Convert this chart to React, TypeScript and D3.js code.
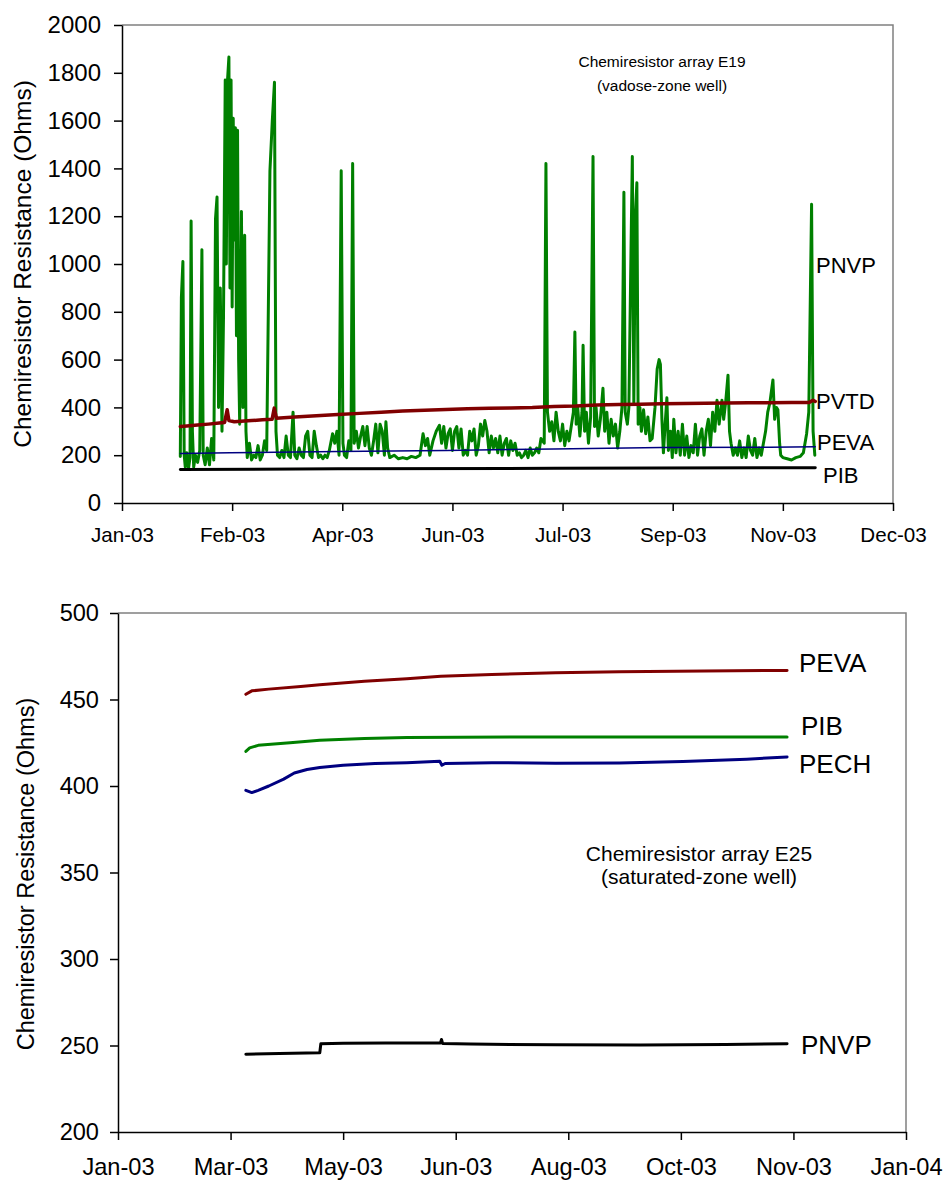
import React, { useEffect, useRef } from 'react';
import * as d3 from 'd3';

// [day of 2003 (0 = 1 Jan), ohms]
type Pt = [number, number];

// ---- array E19 (vadose-zone well) ----
const e19Pnvp: Pt[] = [
	[27, 195], [27.5, 860], [28.2, 1010], [28.8, 200], [29.3, 150], [30, 210], [30.8, 145], [31.5, 190],
	[32, 1180], [32.6, 300], [33.2, 150], [34, 200], [35, 170], [36, 220], [37, 1060], [37.6, 200],
	[38.5, 160], [39.5, 230], [40.5, 160], [41.5, 270], [42.5, 180], [43.3, 1190], [44, 1280], [44.7, 400],
	[45.5, 900], [46.3, 300], [47, 780], [47.8, 1770], [48.3, 1000], [48.8, 1760], [49.5, 1866], [50, 900],
	[50.5, 1770], [51, 820], [51.5, 1610], [52, 1100], [52.5, 1570], [53, 700], [53.5, 1560], [54, 600],
	[54.5, 330], [55.3, 1220], [56, 400], [56.8, 1120], [57.4, 300], [58, 190], [59, 250], [60, 180],
	[61, 200], [62, 190], [63, 240], [64, 180], [65, 200], [66, 260], [67, 220], [68.5, 1390],
	[69.6, 1600], [70.6, 1760], [71.3, 300], [72, 200], [73, 190], [74, 220], [75, 190], [76, 280],
	[77, 200], [78, 190], [79.2, 380], [80, 200], [81, 185], [82, 230], [83, 200], [84, 190],
	[85, 280], [86, 300], [87, 200], [88, 190], [89, 300], [90, 240], [91, 190], [92, 200],
	[93, 185], [94, 200], [95, 190], [96, 220], [97.5, 290], [98.5, 250], [99.5, 300], [100.5, 200],
	[101.5, 1390], [102.3, 250], [103, 200], [104, 190], [105, 260], [106, 220], [106.8, 1420], [107.5, 250],
	[108.5, 300], [109.5, 230], [110.5, 280], [111.5, 320], [112.5, 240], [113.5, 320], [114.5, 230], [115.5, 200],
	[116.5, 260], [117.5, 330], [118.5, 210], [119.5, 330], [120.5, 300], [121.5, 200], [122.2, 340], [123, 230],
	[124, 190], [126, 200], [128, 185], [130, 190], [132, 185], [134, 195], [136, 190], [138, 200],
	[139.4, 290], [140.5, 240], [141.5, 270], [142.5, 200], [144, 260], [145.5, 300], [147, 325], [148, 250],
	[149, 320], [150, 230], [151, 290], [152, 310], [153, 220], [154, 300], [155, 320], [156, 230],
	[157, 310], [158, 200], [159, 220], [160, 200], [161, 300], [162, 260], [163, 310], [164, 200],
	[165, 240], [166, 330], [167, 280], [168, 345], [169, 300], [170, 210], [171, 280], [172, 230],
	[173, 270], [174, 210], [175, 280], [176, 200], [177, 250], [178, 270], [179, 200], [180, 260],
	[181, 220], [182, 250], [183, 200], [184, 210], [185, 190], [186, 200], [187, 220], [188, 190],
	[189, 230], [190, 200], [191, 210], [192, 230], [193, 210], [194, 270], [195.5, 250], [196.3, 1420],
	[197, 380], [198, 300], [199, 340], [200, 260], [201, 380], [202, 300], [203, 260], [204, 330],
	[205, 240], [206, 300], [207, 260], [208, 320], [209, 380], [209.7, 715], [210.3, 330], [211, 400],
	[212, 280], [213, 380], [213.5, 660], [214.2, 300], [215, 380], [216, 250], [217, 360], [218.1, 1450],
	[218.8, 320], [219.5, 400], [220.5, 280], [221.5, 350], [222.7, 480], [223.5, 300], [224.5, 380], [225.5, 250],
	[226.5, 350], [227.5, 280], [228.5, 330], [229.5, 230], [230.5, 300], [231.5, 400], [232.4, 1300], [233, 380],
	[234, 330], [234.7, 400], [235.6, 1000], [236.3, 1450], [237, 420], [237.7, 1200], [238.4, 1340], [239, 330],
	[239.8, 400], [240.5, 300], [241.5, 390], [242.5, 290], [243.5, 360], [244.5, 260], [245.5, 270], [246.8, 400],
	[247.8, 560], [248.7, 600], [249.3, 580], [250, 350], [250.7, 210], [251.5, 330], [252.3, 440], [253, 220],
	[254, 300], [254.8, 190], [255.5, 350], [256.5, 210], [257.5, 300], [258.5, 200], [259.5, 330], [260.5, 200],
	[261.5, 280], [262.5, 190], [263.5, 240], [264.5, 210], [265.5, 330], [266.5, 200], [267.5, 280], [268.5, 310],
	[269.5, 200], [270.5, 300], [271.5, 350], [272.5, 240], [273.5, 380], [274.5, 300], [275.5, 430], [276.5, 330],
	[277.8, 430], [278.6, 350], [279.5, 420], [280.6, 535], [281.3, 300], [282, 250], [283, 200], [284, 230],
	[285, 200], [286, 260], [287, 190], [288, 230], [289, 190], [290, 280], [291, 220], [292, 200],
	[293, 270], [294, 190], [295, 230], [296, 200], [297, 250], [298, 300], [299, 380], [300, 420],
	[301.4, 515], [302.2, 350], [303, 400], [303.7, 390], [304.5, 250], [305, 200], [306, 190], [308, 185],
	[310, 180], [312, 190], [314, 195], [315.5, 210], [317, 290], [318, 380], [319.3, 1250], [320, 300],
	[320.8, 200],
];
const e19Pvtd: Pt[] = [
	[27, 320], [30, 322], [35, 326], [40, 330], [45, 335], [47.5, 337], [48.7, 390], [49.5, 345],
	[52, 340], [55, 342], [60, 345], [65, 348], [69.5, 350], [70.5, 397], [71.5, 355], [80, 360],
	[90, 365], [100, 370], [110, 375], [120, 380], [130, 385], [140, 388], [150, 391], [160, 394],
	[170, 396], [180, 398], [190, 400], [200, 404], [210, 406], [220, 410], [230, 412], [240, 413],
	[250, 415], [260, 416], [270, 417], [280, 418], [290, 419], [300, 419], [310, 420], [318, 420],
	[320, 430], [321, 425],
];
const e19Peva: Pt[] = [
	[27, 207], [50, 210], [100, 215], [150, 220], [200, 226], [250, 232], [300, 233], [321, 235],
];
const e19Pib: Pt[] = [
	[27, 140], [100, 143], [200, 145], [321, 148],
];
const e19YTicks = [0, 200, 400, 600, 800, 1000, 1200, 1400, 1600, 1800, 2000];
const e19XTickDays = [0, 51, 102, 153, 204, 255, 306, 357];

// ---- array E25 (saturated-zone well) ----
const e25Peva: Pt[] = [
	[74.2, 453], [77, 455], [85, 456], [100, 457.5], [109, 458.5], [130, 460.5], [150, 462],
	[166, 463.5], [190, 464.5], [220, 465.5], [250, 466], [290, 466.5], [329, 466.8],
];
const e25Pib: Pt[] = [
	[74.2, 420], [76, 422], [80, 423.5], [95, 425], [109, 426.5], [130, 427.5], [150, 428],
	[200, 428.3], [329, 428.3],
];
const e25Pech: Pt[] = [
	[74.2, 397.5], [77, 396.2], [80, 397.5], [85, 400], [92, 404], [97, 407.5], [103, 409.5],
	[109, 410.7], [120, 412], [135, 413], [150, 413.5], [165.5, 414.3], [166.5, 412], [168, 413],
	[190, 413.5], [220, 413.2], [250, 413.3], [280, 414.2], [310, 415.5], [329, 416.8],
];
const e25Pnvp: Pt[] = [
	[74.2, 245], [90, 245.4], [109, 245.8], [109.5, 251], [120, 251.3], [140, 251.5], [165.8, 251.4],
	[166.3, 253.5], [166.8, 251.2], [180, 250.8], [220, 250.4], [260, 250.3], [300, 250.6], [329, 251],
];
const e25YTicks = [200, 250, 300, 350, 400, 450, 500];
const e25XTickDays = [14, 67, 120, 173, 226, 279, 332, 385];

const FONT = '"Liberation Sans", Arial, sans-serif';
const dayToDate = (d: number) => new Date(Date.UTC(2003, 0, 1) + d * 864e5);

const charts = [
	{
		left: 122, right: 893, top: 25, bottom: 503,
		yTicks: e19YTicks, xTickDays: e19XTickDays,
		yFont: 24, xFont: 20.6, yPad: 13, xPad: 16.4, axisColor: '#000',
		title: { x: 31, y: 264, size: 24.5 },
		note: { x: 662, y: [67, 91], size: 15.5, lines: ['Chemiresistor array E19', '(vadose-zone well)'] },
		series: [
			{ name: 'PNVP', data: e19Pnvp, color: '#008000', width: 3, lx: 816, ly: 273 },
			{ name: 'PVTD', data: e19Pvtd, color: '#800000', width: 3.5, lx: 816, ly: 409 },
			{ name: 'PEVA', data: e19Peva, color: '#000080', width: 1.5, lx: 817, ly: 450 },
			{ name: 'PIB', data: e19Pib, color: '#000000', width: 3, lx: 823, ly: 483 },
		],
		labelFont: 22,
	},
	{
		left: 118, right: 906, top: 613, bottom: 1132,
		yTicks: e25YTicks, xTickDays: e25XTickDays,
		yFont: 23.6, xFont: 23.6, yPad: 11, xPad: 18.2, axisColor: '#000',
		title: { x: 34, y: 874, size: 23.5 },
		note: { x: 699, y: [861, 884], size: 21, lines: ['Chemiresistor array E25', '(saturated-zone well)'] },
		series: [
			{ name: 'PEVA', data: e25Peva, color: '#800000', width: 3, lx: 799, ly: 672 },
			{ name: 'PIB', data: e25Pib, color: '#008000', width: 3, lx: 801, ly: 735 },
			{ name: 'PECH', data: e25Pech, color: '#000080', width: 3, lx: 799, ly: 773 },
			{ name: 'PNVP', data: e25Pnvp, color: '#000000', width: 3, lx: 801, ly: 1054 },
		],
		labelFont: 26,
	},
];

const drawChart = (svgEl: SVGSVGElement, cfg: any) => {
	const svg = d3.select(svgEl);
	const { left, right, top, bottom, yTicks, xTickDays } = cfg;
	const x = d3.scaleUtc()
		.domain([dayToDate(xTickDays[0]), dayToDate(xTickDays[xTickDays.length - 1])])
		.range([left, right]);
	const y = d3.scaleLinear()
		.domain([yTicks[0], yTicks[yTicks.length - 1]])
		.range([bottom, top]);
	const g = svg.append('g');

	// plot-area frame (top and right edges)
	g.append('path')
		.attr('d', `M${ left },${ top }H${ right }V${ bottom }`)
		.attr('fill', 'none')
		.attr('stroke', '#808080')
		.attr('stroke-width', 1.5);

	const line = d3.line<Pt>()
		.x((d) => x(dayToDate(d[0])))
		.y((d) => y(d[1]));

	cfg.series.forEach((s: any) => {
		g.append('path')
			.datum(s.data)
			.attr('d', line)
			.attr('fill', 'none')
			.attr('stroke', s.color)
			.attr('stroke-width', s.width)
			.attr('stroke-linejoin', 'round')
			.attr('stroke-linecap', 'round');
	});

	const yAxis = g.append('g')
		.attr('transform', `translate(${ left },0)`)
		.call(d3.axisLeft(y)
			.tickValues(yTicks)
			.tickFormat(d3.format('d'))
			.tickSize(8).tickSizeOuter(0).tickPadding(cfg.yPad));
	const xAxis = g.append('g')
		.attr('transform', `translate(0,${ bottom })`)
		.call(d3.axisBottom(x)
			.tickValues(xTickDays.map(dayToDate))
			.tickFormat((d: any) => d3.utcFormat('%b-%y')(d))
			.tickSize(8).tickSizeOuter(0).tickPadding(cfg.xPad));

	[yAxis, xAxis].forEach((ax) => {
		ax.select('.domain').attr('stroke', cfg.axisColor).attr('stroke-width', 1.5);
		ax.selectAll('.tick line').attr('stroke', cfg.axisColor).attr('stroke-width', 1.5);
		ax.selectAll('text').attr('fill', '#000').attr('font-family', FONT);
	});
	yAxis.selectAll('text').attr('font-size', cfg.yFont);
	xAxis.selectAll('text').attr('font-size', cfg.xFont);

	g.append('text')
		.attr('transform', `translate(${ cfg.title.x },${ cfg.title.y }) rotate(-90)`)
		.attr('text-anchor', 'middle')
		.attr('font-family', FONT)
		.attr('font-size', cfg.title.size)
		.text('Chemiresistor Resistance (Ohms)');

	cfg.note.lines.forEach((t: string, i: number) => {
		g.append('text')
			.attr('x', cfg.note.x)
			.attr('y', cfg.note.y[i])
			.attr('text-anchor', 'middle')
			.attr('font-family', FONT)
			.attr('font-size', cfg.note.size)
			.text(t);
	});

	cfg.series.forEach((s: any) => {
		g.append('text')
			.attr('x', s.lx)
			.attr('y', s.ly)
			.attr('font-family', FONT)
			.attr('font-size', cfg.labelFont)
			.text(s.name);
	});
};

const App = () => {
	const ref = useRef<SVGSVGElement>(null);

	useEffect(() => {
		if (!ref.current) return;
		d3.select(ref.current).selectAll('*').remove();
		charts.forEach((c) => drawChart(ref.current as SVGSVGElement, c));
	}, []);

	return (
		<svg
			ref={ ref }
			width={ 945 }
			height={ 1180 }
			style={ { position: 'absolute', left: 0, top: 0, background: '#fff' } }
		/>
	);
};

export default App;
